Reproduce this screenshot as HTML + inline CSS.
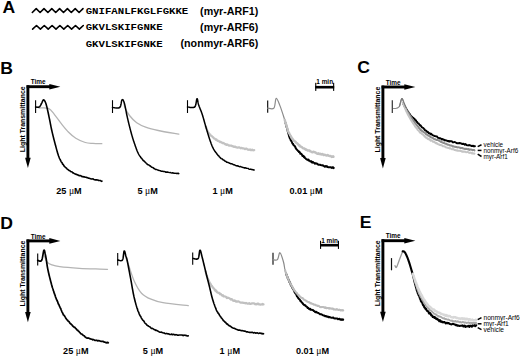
<!DOCTYPE html>
<html><head><meta charset="utf-8"><style>
html,body{margin:0;padding:0;background:#fff;}
body{width:520px;height:356px;overflow:hidden;font-family:"Liberation Sans",sans-serif;}
svg{display:block;}
</style></head><body>
<svg width="520" height="356" viewBox="0 0 520 356">
<rect width="520" height="356" fill="#fff"/>
<text transform="translate(2.4 12.9) scale(1.06 1)" font-family="Liberation Sans, sans-serif" font-weight="bold" font-size="16.6">A</text>
<path d="M32.30 12.50 L36.20 8.60 L40.10 12.50 L44.00 8.60 L47.90 12.50 L51.80 8.60 L55.70 12.50 L59.60 8.60 L63.50 12.50 L67.40 8.60 L71.30 12.50 L75.20 8.60 L79.10 12.50 L83.00 8.60" fill="none" stroke="#000" stroke-width="1.60" stroke-linejoin="round" stroke-linecap="round" stroke-linecap="butt" stroke-linejoin="miter"/>
<path d="M32.60 29.20 L36.50 25.50 L40.40 29.20 L44.30 25.50 L48.20 29.20 L52.10 25.50 L56.00 29.20 L59.90 25.50 L63.80 29.20 L67.70 25.50 L71.60 29.20 L75.50 25.50 L79.40 29.20 L83.30 25.50" fill="none" stroke="#000" stroke-width="1.60" stroke-linejoin="round" stroke-linecap="round" stroke-linecap="butt" stroke-linejoin="miter"/>
<text transform="translate(85.7 13.7) scale(1 0.88)" font-family="Liberation Mono, monospace" font-weight="bold" font-size="10.7">GNIFANLFKGLFGKKE</text>
<text transform="translate(85.7 30.4) scale(1 0.88)" font-family="Liberation Mono, monospace" font-weight="bold" font-size="10.7">GKVLSKIFGNKE</text>
<text transform="translate(85.7 47.0) scale(1 0.88)" font-family="Liberation Mono, monospace" font-weight="bold" font-size="10.7">GKVLSKIFGNKE</text>
<text x="258.3" y="14.6" font-family="Liberation Sans, sans-serif" font-weight="bold" font-size="10.7" text-anchor="end">(myr-ARF1)</text>
<text x="258.3" y="31.0" font-family="Liberation Sans, sans-serif" font-weight="bold" font-size="10.7" text-anchor="end">(myr-ARF6)</text>
<text x="258.3" y="47.2" font-family="Liberation Sans, sans-serif" font-weight="bold" font-size="10.7" text-anchor="end">(nonmyr-ARF6)</text>
<text transform="translate(0.20 74.30) scale(1.06 1)" font-family="Liberation Sans, sans-serif" font-weight="bold" font-size="16.6">B</text>
<text transform="translate(357.30 72.90) scale(1.06 1)" font-family="Liberation Sans, sans-serif" font-weight="bold" font-size="16.6">C</text>
<text transform="translate(0.20 228.80) scale(1.06 1)" font-family="Liberation Sans, sans-serif" font-weight="bold" font-size="16.6">D</text>
<text transform="translate(359.80 228.30) scale(1.06 1)" font-family="Liberation Sans, sans-serif" font-weight="bold" font-size="16.6">E</text>
<rect x="26.60" y="85.25" width="23.70" height="2.90" fill="#000"/>
<polygon points="49.30,83.90 60.40,86.70 49.30,89.50" fill="#000"/>
<rect x="26.45" y="85.25" width="2.90" height="73.45" fill="#000"/>
<polygon points="25.10,157.70 27.90,168.10 30.70,157.70" fill="#000"/>
<text x="30.80" y="84.30" font-family="Liberation Sans, sans-serif" font-size="6.4" font-weight="bold">Time</text>
<text transform="translate(25.20 152.20) rotate(-90)" font-family="Liberation Sans, sans-serif" font-size="7.3" font-weight="bold" textLength="65.8" lengthAdjust="spacingAndGlyphs">Light Transmittance</text>
<rect x="381.60" y="85.55" width="23.70" height="2.90" fill="#000"/>
<polygon points="404.30,84.20 415.40,87.00 404.30,89.80" fill="#000"/>
<rect x="381.45" y="85.55" width="2.90" height="73.45" fill="#000"/>
<polygon points="380.10,158.00 382.90,168.40 385.70,158.00" fill="#000"/>
<text x="385.80" y="84.60" font-family="Liberation Sans, sans-serif" font-size="6.4" font-weight="bold">Time</text>
<text transform="translate(380.20 152.50) rotate(-90)" font-family="Liberation Sans, sans-serif" font-size="7.3" font-weight="bold" textLength="65.8" lengthAdjust="spacingAndGlyphs">Light Transmittance</text>
<rect x="26.60" y="239.45" width="23.70" height="2.90" fill="#000"/>
<polygon points="49.30,238.10 60.40,240.90 49.30,243.70" fill="#000"/>
<rect x="26.45" y="239.45" width="2.90" height="73.45" fill="#000"/>
<polygon points="25.10,311.90 27.90,322.30 30.70,311.90" fill="#000"/>
<text x="30.80" y="238.50" font-family="Liberation Sans, sans-serif" font-size="6.4" font-weight="bold">Time</text>
<text transform="translate(25.20 306.40) rotate(-90)" font-family="Liberation Sans, sans-serif" font-size="7.3" font-weight="bold" textLength="65.8" lengthAdjust="spacingAndGlyphs">Light Transmittance</text>
<rect x="381.60" y="239.25" width="23.70" height="2.90" fill="#000"/>
<polygon points="404.30,237.90 415.40,240.70 404.30,243.50" fill="#000"/>
<rect x="381.45" y="239.25" width="2.90" height="73.45" fill="#000"/>
<polygon points="380.10,311.70 382.90,322.10 385.70,311.70" fill="#000"/>
<text x="385.80" y="238.30" font-family="Liberation Sans, sans-serif" font-size="6.4" font-weight="bold">Time</text>
<text transform="translate(380.20 306.20) rotate(-90)" font-family="Liberation Sans, sans-serif" font-size="7.3" font-weight="bold" textLength="65.8" lengthAdjust="spacingAndGlyphs">Light Transmittance</text>
<line x1="35.60" y1="100.20" x2="35.60" y2="113.00" stroke="#000" stroke-width="1.10"/>
<path d="M39.00 108.00 C40.57 108.07 45.85 107.35 48.40 108.40 C50.95 109.45 52.12 111.72 54.30 114.30 C56.48 116.88 59.12 120.92 61.50 123.90 C63.88 126.88 66.22 129.82 68.60 132.20 C70.98 134.58 73.02 136.48 75.80 138.20 C78.58 139.92 82.43 141.63 85.30 142.50 C88.17 143.37 90.25 143.20 93.00 143.40 C95.75 143.60 100.33 143.65 101.80 143.70" fill="none" stroke="#b4b4b4" stroke-width="1.30" stroke-linejoin="round" stroke-linecap="round"/>
<path d="M35.60 107.00 L36.11 107.06 L36.84 107.17 L37.68 107.25 L38.51 107.22 L39.20 107.00 L39.75 106.53 L40.23 105.86 L40.66 105.08 L41.08 104.27 L41.50 103.50 L41.85 102.82 L42.19 102.04 L42.52 101.26 L42.84 100.57 L43.17 100.05 L43.50 99.80 L44.01 99.95 L44.52 100.55 L45.02 101.45 L45.50 102.50 L45.72 103.05 L45.93 103.64 L46.13 104.27 L46.33 104.95 L46.53 105.70 L46.74 106.51 L46.96 107.41 L47.20 108.40 L47.34 108.97 L47.48 109.58 L47.62 110.21 L47.77 110.88 L47.92 111.57 L48.07 112.28 L48.23 113.01 L48.39 113.75 L48.54 114.50 L48.70 115.27 L48.86 116.04 L49.02 116.81 L49.18 117.58 L49.34 118.34 L49.50 119.10 L49.64 119.76 L49.77 120.43 L49.90 121.10 L50.03 121.77 L50.16 122.44 L50.29 123.11 L50.42 123.79 L50.55 124.48 L50.69 125.17 L50.82 125.87 L50.96 126.57 L51.10 127.29 L51.25 128.01 L51.40 128.74 L51.56 129.48 L51.73 130.24 L51.90 131.00 L52.05 131.63 L52.20 132.28 L52.35 132.94 L52.51 133.61 L52.67 134.29 L52.84 134.98 L53.01 135.67 L53.18 136.38 L53.36 137.08 L53.54 137.79 L53.71 138.50 L53.89 139.21 L54.07 139.91 L54.26 140.61 L54.44 141.31 L54.62 142.00 L54.80 142.68 L54.98 143.36 L55.15 144.02 L55.33 144.67 L55.50 145.30 L55.71 146.07 L55.92 146.84 L56.12 147.60 L56.32 148.36 L56.52 149.11 L56.72 149.85 L56.92 150.59 L57.12 151.32 L57.33 152.03 L57.53 152.74 L57.74 153.43 L57.95 154.11 L58.17 154.78 L58.39 155.43 L58.62 156.07 L58.86 156.69 L59.10 157.30 L59.42 158.07 L59.75 158.80 L60.08 159.33 L60.41 160.23 L60.75 160.78 L61.10 161.58 L61.46 162.22 L61.83 162.44 L62.21 163.00 L62.61 164.15 L63.02 164.32 L63.45 164.86 L63.90 165.95 L64.36 166.12 L64.84 166.90 L65.33 167.16 L65.83 167.77 L66.35 167.91 L66.88 168.72 L67.42 169.33 L67.98 169.54 L68.56 170.12 L69.14 170.50 L69.75 170.49 L70.37 171.38 L71.00 171.66 L71.57 171.80 L72.16 171.94 L72.76 172.86 L73.38 172.90 L74.02 173.38 L74.66 173.80 L75.32 173.98 L75.98 174.41 L76.65 174.32 L77.31 174.88 L77.98 174.90 L78.65 175.49 L79.31 175.70 L79.96 175.39 L80.60 175.65 L81.33 175.95 L82.04 176.70 L82.75 176.53 L83.45 176.85 L84.15 176.80 L84.85 177.12 L85.56 177.19 L86.28 177.33 L87.00 177.65 L87.75 177.82 L88.51 178.21 L89.29 178.23 L90.10 178.60 L90.76 178.71 L91.46 178.97 L92.21 178.93 L92.99 178.75 L93.79 179.43 L94.60 179.70 L95.42 179.85 L96.24 179.80 L97.04 180.09 L97.83 179.92 L98.58 180.53 L99.30 180.52 L99.97 180.47 L100.58 180.46 L101.13 181.14 L101.61 181.35 L102.00 181.10" fill="none" stroke="#000" stroke-width="1.60" stroke-linejoin="round" stroke-linecap="round"/>
<line x1="112.50" y1="100.20" x2="112.50" y2="113.00" stroke="#000" stroke-width="1.10"/>
<path d="M124.30 103.00 C124.38 103.70 123.93 105.12 124.80 107.20 C125.67 109.28 127.52 112.92 129.50 115.50 C131.48 118.08 133.90 120.72 136.70 122.70 C139.50 124.68 142.72 126.10 146.30 127.40 C149.88 128.70 152.78 129.37 158.20 130.50 C163.62 131.63 175.37 133.58 178.80 134.20" fill="none" stroke="#b4b4b4" stroke-width="1.30" stroke-linejoin="round" stroke-linecap="round"/>
<path d="M112.50 107.50 L112.95 107.53 L113.56 107.62 L114.29 107.74 L115.10 107.87 L115.96 107.98 L116.83 108.05 L117.67 108.07 L118.46 107.99 L119.15 107.81 L119.70 107.50 L120.09 107.05 L120.42 106.42 L120.68 105.66 L120.90 104.81 L121.08 103.91 L121.23 103.00 L121.37 102.12 L121.51 101.32 L121.65 100.64 L121.81 100.12 L122.00 99.80 L122.45 99.57 L122.89 99.79 L123.34 100.44 L123.80 101.51 L124.30 103.00 L124.43 103.45 L124.56 103.94 L124.70 104.48 L124.83 105.06 L124.97 105.67 L125.11 106.32 L125.25 106.99 L125.39 107.70 L125.53 108.42 L125.67 109.16 L125.82 109.91 L125.97 110.67 L126.12 111.44 L126.27 112.22 L126.42 112.99 L126.57 113.75 L126.73 114.51 L126.88 115.26 L127.04 115.99 L127.20 116.70 L127.35 117.37 L127.51 118.05 L127.67 118.73 L127.83 119.42 L127.99 120.11 L128.15 120.81 L128.32 121.51 L128.49 122.21 L128.65 122.91 L128.82 123.61 L128.99 124.31 L129.16 125.00 L129.33 125.69 L129.50 126.38 L129.68 127.06 L129.85 127.74 L130.02 128.41 L130.19 129.07 L130.36 129.73 L130.53 130.37 L130.70 131.00 L130.91 131.77 L131.11 132.52 L131.31 133.26 L131.51 133.98 L131.71 134.70 L131.91 135.41 L132.12 136.11 L132.32 136.80 L132.52 137.49 L132.73 138.18 L132.94 138.86 L133.15 139.55 L133.37 140.23 L133.59 140.92 L133.82 141.61 L134.06 142.30 L134.30 143.00 L134.53 143.67 L134.77 144.35 L135.00 145.03 L135.24 145.72 L135.48 146.41 L135.72 147.11 L135.97 147.80 L136.22 148.49 L136.48 149.18 L136.74 149.86 L137.00 150.54 L137.28 151.20 L137.56 151.86 L137.85 152.50 L138.15 153.13 L138.45 153.74 L138.77 154.33 L139.10 154.90 L139.51 155.56 L139.92 156.20 L140.35 156.58 L140.79 157.61 L141.24 157.96 L141.70 158.38 L142.17 159.02 L142.65 159.85 L143.14 160.44 L143.64 160.46 L144.15 161.31 L144.67 161.47 L145.21 162.37 L145.75 162.62 L146.30 163.43 L146.83 163.93 L147.36 164.08 L147.90 164.81 L148.46 164.82 L149.02 165.09 L149.59 165.81 L150.17 165.86 L150.76 166.34 L151.35 166.84 L151.96 167.33 L152.58 167.41 L153.20 167.68 L153.84 168.51 L154.48 168.49 L155.14 169.18 L155.80 169.44 L156.44 169.39 L157.09 169.68 L157.77 169.96 L158.45 170.25 L159.15 170.44 L159.85 170.62 L160.57 170.84 L161.29 171.22 L162.01 171.13 L162.74 171.26 L163.46 171.59 L164.19 171.45 L164.90 171.64 L165.62 172.18 L166.32 172.05 L167.02 172.20 L167.70 172.01 L168.49 172.39 L169.31 172.62 L170.15 172.41 L171.01 172.88 L171.87 172.99 L172.73 172.75 L173.58 173.18 L174.40 173.16 L175.20 173.37 L175.95 173.24 L176.66 173.52 L177.30 173.59 L177.88 173.22 L178.38 173.29 L178.80 173.60" fill="none" stroke="#000" stroke-width="1.50" stroke-linejoin="round" stroke-linecap="round"/>
<line x1="187.50" y1="100.20" x2="187.50" y2="113.00" stroke="#000" stroke-width="1.10"/>
<path d="M205.70 126.30 L205.89 126.84 L206.16 127.60 L206.48 128.49 L206.84 129.39 L207.20 130.20 L207.54 130.89 L207.87 131.53 L208.24 132.17 L208.70 132.84 L209.30 133.78 L209.70 134.53 L210.14 134.32 L210.61 135.05 L211.12 135.72 L211.65 135.99 L212.22 136.59 L212.82 137.08 L213.45 137.66 L214.10 138.40 L214.66 138.50 L215.23 138.98 L215.83 139.78 L216.44 139.43 L217.08 140.36 L217.74 140.92 L218.41 140.87 L219.11 141.16 L219.82 142.10 L220.55 141.89 L221.30 142.19 L221.90 142.70 L222.52 143.22 L223.14 142.88 L223.78 143.35 L224.42 143.61 L225.08 144.35 L225.76 144.19 L226.44 144.84 L227.14 144.38 L227.84 144.77 L228.56 145.31 L229.30 145.76 L230.04 145.54 L230.80 145.53 L231.44 145.59 L232.09 146.17 L232.76 146.00 L233.44 146.79 L234.14 146.98 L234.84 146.49 L235.55 146.74 L236.27 147.43 L236.99 147.42 L237.71 147.73 L238.43 147.42 L239.16 147.35 L239.88 147.66 L240.59 148.30 L241.30 147.91 L242.01 148.12 L242.70 148.32 L243.45 148.45 L244.24 148.58 L245.05 149.22 L245.87 148.58 L246.71 148.56 L247.55 149.62 L248.38 149.68 L249.19 149.90 L249.99 149.46 L250.75 150.08 L251.47 150.15 L252.14 149.54 L252.76 150.14 L253.32 150.31 L253.80 150.21 L254.20 150.10" fill="none" stroke="#c2c2c2" stroke-width="2.20" stroke-linejoin="round" stroke-linecap="round"/>
<path d="M187.50 107.00 L187.95 107.04 L188.56 107.13 L189.29 107.26 L190.10 107.40 L190.96 107.52 L191.83 107.60 L192.67 107.61 L193.46 107.53 L194.15 107.34 L194.70 107.00 L195.07 106.55 L195.37 105.93 L195.64 105.17 L195.86 104.31 L196.04 103.40 L196.20 102.47 L196.34 101.56 L196.47 100.71 L196.59 99.96 L196.71 99.35 L196.85 98.91 L197.00 98.70 L197.20 98.73 L197.36 99.02 L197.51 99.54 L197.65 100.24 L197.79 101.07 L197.94 101.98 L198.12 102.94 L198.34 103.89 L198.60 104.80 L198.80 105.37 L199.01 105.96 L199.24 106.57 L199.49 107.19 L199.74 107.84 L200.01 108.50 L200.28 109.18 L200.56 109.88 L200.84 110.58 L201.12 111.30 L201.40 112.04 L201.67 112.78 L201.94 113.54 L202.20 114.30 L202.41 114.94 L202.62 115.60 L202.82 116.27 L203.03 116.95 L203.23 117.65 L203.44 118.35 L203.64 119.07 L203.85 119.79 L204.05 120.51 L204.26 121.24 L204.46 121.97 L204.67 122.70 L204.87 123.43 L205.08 124.16 L205.28 124.88 L205.49 125.59 L205.70 126.30 L205.91 127.01 L206.12 127.72 L206.33 128.44 L206.54 129.16 L206.75 129.88 L206.96 130.60 L207.18 131.33 L207.39 132.05 L207.60 132.76 L207.81 133.48 L208.03 134.18 L208.24 134.88 L208.45 135.57 L208.66 136.24 L208.88 136.91 L209.09 137.56 L209.30 138.20 L209.55 138.96 L209.80 139.70 L210.05 140.44 L210.29 141.16 L210.54 141.86 L210.78 142.56 L211.03 143.24 L211.27 143.92 L211.53 144.58 L211.78 145.22 L212.05 145.86 L212.32 146.48 L212.61 147.10 L212.90 147.70 L213.25 148.38 L213.60 149.05 L213.96 149.69 L214.33 150.31 L214.70 150.92 L215.08 151.53 L215.48 151.97 L215.89 152.58 L216.31 153.07 L216.75 153.54 L217.22 154.40 L217.70 154.77 L218.16 155.59 L218.64 155.64 L219.13 156.65 L219.63 157.02 L220.15 157.64 L220.68 158.10 L221.22 158.57 L221.78 158.84 L222.36 158.95 L222.94 159.82 L223.55 159.90 L224.17 160.39 L224.80 161.00 L225.41 161.26 L226.03 161.53 L226.67 162.17 L227.33 162.28 L228.00 162.42 L228.68 162.65 L229.38 163.30 L230.08 163.34 L230.79 163.79 L231.50 163.79 L232.23 163.96 L232.95 164.41 L233.67 164.84 L234.40 164.70 L235.08 165.31 L235.78 165.62 L236.50 165.78 L237.22 166.01 L237.94 165.74 L238.68 166.33 L239.41 166.68 L240.15 166.40 L240.88 166.74 L241.61 166.94 L242.33 167.28 L243.04 167.41 L243.74 167.63 L244.43 167.99 L245.10 167.70 L245.88 167.93 L246.68 168.18 L247.50 168.37 L248.32 168.53 L249.13 169.26 L249.93 169.37 L250.70 169.08 L251.44 169.49 L252.12 169.53 L252.75 169.67 L253.32 169.81 L253.80 170.10 L254.20 170.10" fill="none" stroke="#000" stroke-width="1.50" stroke-linejoin="round" stroke-linecap="round"/>
<line x1="267.70" y1="100.50" x2="267.70" y2="112.80" stroke="#000" stroke-width="1.10"/>
<path d="M285.50 123.10 L285.61 123.23 L285.75 123.53 L285.91 124.29 L286.10 124.70 L286.30 125.94 L286.51 126.89 L286.73 127.28 L286.95 127.71 L287.17 128.62 L287.39 129.62 L287.60 130.63 L287.80 131.55 L287.99 131.78 L288.17 133.01 L288.35 133.53 L288.54 134.03 L288.74 134.70 L288.95 135.58 L289.17 136.56 L289.42 136.96 L289.69 138.01 L290.00 138.45 L290.28 138.80 L290.58 139.76 L290.90 140.55 L291.23 140.40 L291.57 141.43 L291.93 142.03 L292.30 143.17 L292.68 143.84 L293.07 143.76 L293.47 144.99 L293.87 145.46 L294.28 145.42 L294.70 146.26 L295.09 146.40 L295.49 147.79 L295.90 148.18 L296.32 149.02 L296.74 149.47 L297.17 149.89 L297.61 150.53 L298.06 150.89 L298.51 150.89 L298.98 152.02 L299.45 151.86 L299.92 152.55 L300.41 153.83 L300.90 153.45 L301.40 154.00 L301.89 154.50 L302.39 155.91 L302.90 155.54 L303.41 155.82 L303.93 157.26 L304.46 156.84 L305.00 158.15 L305.56 158.37 L306.13 158.99 L306.72 159.55 L307.32 159.51 L307.95 160.17 L308.60 159.64 L309.18 160.86 L309.78 160.88 L310.38 161.44 L311.00 161.03 L311.63 162.10 L312.26 162.63 L312.92 161.88 L313.58 162.48 L314.26 163.05 L314.95 163.65 L315.66 163.22 L316.37 163.41 L317.11 163.75 L317.86 164.45 L318.62 164.86 L319.40 164.67 L320.02 164.82 L320.69 165.04 L321.39 165.17 L322.13 165.43 L322.89 165.21 L323.67 165.89 L324.47 166.63 L325.27 166.13 L326.08 166.69 L326.88 166.15 L327.67 166.94 L328.45 167.17 L329.20 167.22 L329.93 167.17 L330.63 167.26 L331.29 167.58 L331.90 168.00 L332.47 167.21 L332.98 167.25 L333.42 168.12 L333.80 167.90" fill="none" stroke="#000" stroke-width="2.00" stroke-linejoin="round" stroke-linecap="round"/>
<path d="M267.70 108.20 C268.73 108.20 272.48 109.83 273.90 108.20 C275.32 106.57 275.18 98.78 276.20 98.40 C277.22 98.02 278.58 102.33 280.00 105.90 C281.42 109.47 283.53 116.20 284.70 119.80 C285.87 123.40 286.62 126.22 287.00 127.50" fill="none" stroke="#8a8a8a" stroke-width="1.20" stroke-linejoin="round" stroke-linecap="round"/>
<path d="M284.70 119.80 L284.82 120.22 L284.98 120.75 L285.16 121.39 L285.37 122.10 L285.60 122.88 L285.83 123.68 L286.07 124.50 L286.32 125.31 L286.56 126.10 L286.79 126.83 L287.00 127.50 L287.23 128.23 L287.43 128.91 L287.62 129.56 L287.80 130.18 L288.00 131.25 L288.23 131.44 L288.49 132.01 L288.81 133.00 L289.20 133.15 L289.50 133.79 L289.83 134.29 L290.17 135.31 L290.52 135.62 L290.90 136.15 L291.30 137.28 L291.72 138.20 L292.16 138.12 L292.62 139.20 L293.10 139.50 L293.61 140.60 L294.14 140.91 L294.70 141.14 L295.17 141.56 L295.66 141.81 L296.17 142.78 L296.69 143.14 L297.22 143.37 L297.78 144.04 L298.34 144.46 L298.92 145.41 L299.52 145.16 L300.13 146.53 L300.74 146.40 L301.37 146.95 L302.02 147.21 L302.67 148.01 L303.33 148.38 L304.00 148.46 L304.60 148.70 L305.21 149.26 L305.82 149.71 L306.44 149.49 L307.06 150.13 L307.70 150.65 L308.34 150.36 L308.99 150.36 L309.66 150.61 L310.33 151.38 L311.02 151.57 L311.73 152.12 L312.44 152.24 L313.18 151.79 L313.93 151.97 L314.70 152.27 L315.49 152.42 L316.30 153.23 L316.91 153.56 L317.56 153.78 L318.25 153.25 L318.96 154.10 L319.70 153.67 L320.46 153.97 L321.25 154.48 L322.04 153.95 L322.84 154.14 L323.65 155.13 L324.46 154.70 L325.27 154.95 L326.07 155.36 L326.85 155.63 L327.62 155.05 L328.37 155.56 L329.10 155.82 L329.79 156.02 L330.46 155.85 L331.08 156.39 L331.67 156.92 L332.20 156.41 L332.69 156.68 L333.13 156.30 L333.50 156.80" fill="none" stroke="#c0c0c0" stroke-width="2.40" stroke-linejoin="round" stroke-linecap="round"/>
<line x1="392.30" y1="100.20" x2="392.30" y2="113.00" stroke="#333" stroke-width="1.20"/>
<path d="M393.50 108.50 C394.00 108.47 395.50 108.68 396.50 108.30 C397.50 107.92 398.63 107.80 399.50 106.20 C400.37 104.60 401.03 99.48 401.70 98.70 C402.37 97.92 403.20 101.03 403.50 101.50" fill="none" stroke="#8a8a8a" stroke-width="1.20" stroke-linejoin="round" stroke-linecap="round"/>
<path d="M402.90 103.00 L403.13 103.40 L403.42 103.92 L403.76 104.53 L404.15 105.22 L404.57 105.96 L405.00 106.73 L405.45 107.50 L405.89 108.25 L406.31 108.96 L406.70 109.60 L407.11 110.26 L407.52 110.90 L407.92 111.53 L408.32 112.14 L408.73 112.74 L409.13 113.33 L409.55 113.90 L409.97 114.45 L410.40 115.00 L410.88 115.57 L411.36 116.09 L411.83 116.57 L412.31 117.05 L412.82 117.54 L413.36 117.81 L413.95 118.82 L414.60 118.87 L415.03 120.18 L415.49 120.69 L415.97 120.31 L416.47 121.77 L416.99 121.70 L417.52 122.70 L418.06 123.26 L418.60 123.33 L419.15 124.32 L419.70 124.86 L420.24 125.58 L420.77 125.53 L421.30 126.58 L421.81 127.31 L422.32 127.49 L422.82 127.84 L423.32 127.87 L423.81 128.77 L424.31 129.10 L424.82 129.98 L425.33 130.40 L425.85 130.74 L426.39 130.76 L426.94 131.71 L427.51 132.13 L428.10 132.05 L428.67 133.21 L429.27 133.32 L429.88 133.10 L430.52 134.34 L431.16 133.82 L431.81 134.36 L432.48 135.12 L433.14 135.31 L433.80 135.58 L434.46 135.99 L435.11 136.09 L435.76 136.22 L436.39 136.36 L437.00 136.53 L437.68 137.55 L438.32 137.90 L438.93 137.95 L439.52 138.44 L440.11 138.29 L440.70 138.44 L441.31 138.82 L441.94 139.61 L442.62 138.94 L443.35 139.70 L444.14 139.67 L445.00 140.50 L445.55 140.19 L446.13 140.32 L446.72 140.55 L447.33 140.86 L447.96 141.26 L448.61 140.95 L449.27 141.65 L449.94 140.99 L450.63 141.31 L451.33 141.27 L452.04 141.44 L452.76 142.32 L453.49 142.41 L454.22 141.96 L454.96 142.11 L455.70 142.51 L456.45 143.02 L457.20 143.25 L457.95 143.32 L458.70 143.30 L459.37 142.94 L460.08 143.36 L460.82 143.28 L461.58 143.79 L462.37 143.98 L463.18 143.73 L463.99 143.93 L464.82 144.67 L465.65 144.00 L466.48 145.00 L467.30 145.24 L468.11 145.45 L468.91 144.98 L469.68 145.30 L470.43 145.47 L471.16 145.65 L471.84 146.16 L472.49 145.95 L473.10 145.64 L473.66 146.35 L474.16 146.03 L474.61 146.24 L475.00 146.20" fill="none" stroke="#000" stroke-width="1.90" stroke-linejoin="round" stroke-linecap="round"/>
<path d="M402.90 103.00 L403.10 103.38 L403.35 103.86 L403.64 104.43 L403.98 105.08 L404.34 105.77 L404.72 106.50 L405.11 107.24 L405.50 107.98 L405.88 108.70 L406.25 109.38 L406.60 110.00 L407.00 110.71 L407.41 111.40 L407.81 112.07 L408.21 112.73 L408.61 113.38 L409.00 114.02 L409.40 114.65 L409.80 115.28 L410.20 115.90 L410.59 116.50 L410.95 117.07 L411.30 117.62 L411.66 118.16 L412.02 118.71 L412.41 119.27 L412.83 119.87 L413.29 120.50 L413.80 121.20 L414.16 121.87 L414.54 121.80 L414.94 122.96 L415.36 123.44 L415.79 123.88 L416.23 124.50 L416.69 125.05 L417.15 125.43 L417.62 126.30 L418.09 126.49 L418.57 127.43 L419.05 128.10 L419.53 128.46 L420.00 129.05 L420.55 129.91 L421.10 130.38 L421.65 130.28 L422.20 131.29 L422.76 131.62 L423.32 131.62 L423.90 132.31 L424.49 132.65 L425.09 132.96 L425.71 133.76 L426.34 134.51 L427.00 134.46 L427.58 135.27 L428.17 135.51 L428.78 135.43 L429.40 136.38 L430.03 136.54 L430.66 137.17 L431.31 137.36 L431.97 137.74 L432.63 137.77 L433.30 138.49 L433.97 138.94 L434.64 139.22 L435.32 139.22 L436.00 139.81 L436.64 139.89 L437.28 139.89 L437.94 140.14 L438.59 140.46 L439.26 140.85 L439.93 141.10 L440.60 141.66 L441.28 142.10 L441.95 142.25 L442.63 142.43 L443.31 142.88 L443.98 142.87 L444.66 143.26 L445.33 143.75 L446.00 143.72 L446.65 143.79 L447.27 144.61 L447.86 144.71 L448.45 144.66 L449.02 144.90 L449.59 145.25 L450.17 145.53 L450.77 145.45 L451.39 145.49 L452.04 145.88 L452.72 146.56 L453.46 146.26 L454.24 146.73 L455.09 146.74 L456.00 146.97 L456.57 147.07 L457.20 147.38 L457.86 147.33 L458.56 147.36 L459.30 147.56 L460.07 147.75 L460.86 148.15 L461.67 147.95 L462.50 148.07 L463.34 148.55 L464.18 148.66 L465.03 149.04 L465.88 148.65 L466.71 149.07 L467.54 149.20 L468.35 149.03 L469.13 149.91 L469.89 149.43 L470.62 149.45 L471.32 149.86 L471.98 149.72 L472.59 150.18 L473.15 150.05 L473.66 149.96 L474.11 149.98 L474.50 150.40" fill="none" stroke="#8c8c8c" stroke-width="2.00" stroke-linejoin="round" stroke-linecap="round"/>
<path d="M402.90 103.00 L403.06 103.39 L403.26 103.89 L403.49 104.47 L403.75 105.13 L404.04 105.84 L404.34 106.59 L404.65 107.36 L404.97 108.14 L405.29 108.91 L405.61 109.66 L405.91 110.36 L406.20 111.00 L406.53 111.72 L406.87 112.42 L407.20 113.10 L407.54 113.77 L407.88 114.42 L408.21 115.07 L408.55 115.71 L408.90 116.34 L409.25 116.97 L409.60 117.60 L409.95 118.22 L410.29 118.81 L410.62 119.39 L410.96 119.97 L411.31 120.54 L411.66 121.11 L412.03 121.70 L412.43 122.31 L412.85 122.94 L413.30 123.60 L413.67 124.14 L414.06 124.89 L414.47 125.11 L414.90 126.12 L415.33 126.48 L415.78 127.47 L416.23 127.59 L416.69 128.16 L417.16 128.78 L417.62 129.82 L418.09 130.24 L418.55 130.56 L419.00 130.87 L419.53 131.92 L420.05 132.70 L420.56 132.92 L421.08 132.95 L421.59 133.46 L422.12 133.98 L422.66 134.50 L423.21 134.85 L423.78 135.32 L424.38 136.26 L425.00 136.92 L425.54 136.75 L426.07 137.75 L426.60 137.73 L427.14 138.36 L427.69 138.81 L428.25 139.20 L428.84 138.83 L429.45 139.42 L430.08 140.03 L430.75 140.68 L431.46 140.37 L432.21 140.93 L433.00 141.78 L433.54 141.46 L434.11 141.96 L434.70 142.21 L435.31 142.78 L435.94 143.28 L436.59 142.98 L437.25 143.74 L437.92 144.04 L438.60 144.43 L439.29 144.52 L439.99 145.12 L440.70 144.98 L441.40 145.32 L442.11 145.47 L442.82 146.20 L443.53 146.24 L444.23 146.35 L444.93 146.54 L445.62 147.23 L446.30 147.38 L446.98 147.70 L447.65 147.67 L448.33 147.97 L449.00 147.92 L449.68 148.57 L450.36 148.22 L451.03 148.77 L451.71 149.19 L452.39 149.31 L453.08 149.03 L453.76 149.32 L454.44 149.97 L455.13 149.98 L455.82 150.34 L456.51 150.50 L457.20 150.32 L457.90 150.84 L458.60 150.87 L459.30 150.71 L460.00 150.90 L460.69 150.81 L461.41 151.22 L462.16 151.82 L462.92 151.29 L463.71 151.81 L464.51 151.59 L465.31 151.71 L466.12 152.31 L466.92 152.12 L467.71 152.10 L468.49 152.32 L469.26 152.84 L470.00 152.92 L470.71 152.58 L471.39 152.86 L472.03 153.56 L472.63 153.06 L473.18 153.42 L473.68 153.39 L474.12 153.76 L474.50 153.60" fill="none" stroke="#c4c4c4" stroke-width="2.00" stroke-linejoin="round" stroke-linecap="round"/>
<path d="M399.50 106.20 C399.87 104.95 401.03 99.48 401.70 98.70 C402.37 97.92 402.78 100.03 403.50 101.50 C404.22 102.97 405.58 106.50 406.00 107.50" fill="none" stroke="#7a7a7a" stroke-width="1.20" stroke-linejoin="round" stroke-linecap="round"/>
<line x1="477.7" y1="146.6" x2="481.5" y2="144.8" stroke="#000" stroke-width="1.5"/>
<line x1="477.7" y1="150.4" x2="481.5" y2="150.4" stroke="#000" stroke-width="1.5"/>
<line x1="477.7" y1="154.2" x2="481.5" y2="156.5" stroke="#000" stroke-width="1.5"/>
<text x="483.5" y="146.8" font-family="Liberation Sans, sans-serif" font-size="6.3">vehicle</text>
<text x="483.5" y="152.6" font-family="Liberation Sans, sans-serif" font-size="6.3">nonmyr-Arf6</text>
<text x="483.5" y="158.5" font-family="Liberation Sans, sans-serif" font-size="6.3">myr-Arf1</text>
<line x1="37.70" y1="253.50" x2="37.70" y2="265.40" stroke="#000" stroke-width="1.10"/>
<path d="M44.50 256.00 C44.90 256.97 45.68 260.33 46.90 261.80 C48.12 263.27 49.67 263.98 51.80 264.80 C53.93 265.62 55.10 266.12 59.70 266.70 C64.30 267.28 72.68 267.90 79.40 268.30 C86.12 268.70 95.32 268.93 100.00 269.10 C104.68 269.27 106.25 269.27 107.50 269.30" fill="none" stroke="#b4b4b4" stroke-width="1.30" stroke-linejoin="round" stroke-linecap="round"/>
<path d="M37.70 260.40 L38.26 260.56 L39.06 260.89 L39.97 261.13 L40.86 261.05 L41.60 260.40 L41.82 259.95 L42.02 259.36 L42.22 258.64 L42.40 257.82 L42.58 256.94 L42.75 256.01 L42.91 255.06 L43.07 254.13 L43.22 253.23 L43.36 252.39 L43.50 251.64 L43.64 251.01 L43.77 250.52 L43.90 250.20 L44.23 250.05 L44.51 250.66 L44.75 251.73 L44.98 252.95 L45.20 254.00 L45.35 254.59 L45.49 255.15 L45.61 255.71 L45.74 256.33 L45.87 257.04 L46.02 257.88 L46.20 258.90 L46.29 259.44 L46.37 260.01 L46.46 260.60 L46.55 261.23 L46.63 261.88 L46.72 262.56 L46.82 263.26 L46.92 263.99 L47.03 264.74 L47.14 265.52 L47.27 266.31 L47.41 267.13 L47.56 267.97 L47.72 268.83 L47.90 269.70 L48.03 270.29 L48.16 270.90 L48.30 271.54 L48.45 272.19 L48.60 272.86 L48.76 273.54 L48.92 274.24 L49.09 274.95 L49.27 275.67 L49.44 276.39 L49.62 277.12 L49.80 277.85 L49.99 278.58 L50.17 279.31 L50.36 280.03 L50.54 280.75 L50.73 281.46 L50.91 282.16 L51.09 282.84 L51.28 283.51 L51.45 284.16 L51.63 284.79 L51.80 285.40 L52.03 286.28 L52.25 287.20 L52.48 287.75 L52.70 288.21 L52.92 288.92 L53.14 289.54 L53.36 290.83 L53.58 290.94 L53.81 291.53 L54.03 292.95 L54.26 293.00 L54.49 294.21 L54.72 294.22 L54.96 295.18 L55.20 295.64 L55.45 296.79 L55.70 297.29 L55.96 297.99 L56.23 298.78 L56.51 299.56 L56.80 299.84 L57.09 300.75 L57.38 301.32 L57.68 301.75 L57.98 303.02 L58.27 303.51 L58.57 304.36 L58.87 304.54 L59.16 305.46 L59.44 306.03 L59.72 306.86 L59.99 306.94 L60.25 307.73 L60.50 308.39 L60.86 308.86 L61.19 309.98 L61.49 310.82 L61.78 311.23 L62.05 312.03 L62.33 312.60 L62.62 312.87 L62.92 313.56 L63.25 314.67 L63.60 314.74 L64.00 315.44 L64.40 315.76 L64.82 316.46 L65.27 317.02 L65.74 318.24 L66.22 318.68 L66.72 319.39 L67.22 320.08 L67.73 320.36 L68.23 321.20 L68.73 321.44 L69.22 321.90 L69.70 322.86 L70.20 323.38 L70.69 323.93 L71.16 324.06 L71.62 324.77 L72.09 324.94 L72.56 325.88 L73.05 326.30 L73.57 326.29 L74.11 327.31 L74.68 327.26 L75.30 327.78 L75.75 328.71 L76.22 328.83 L76.72 329.50 L77.22 330.11 L77.75 330.15 L78.28 331.25 L78.82 331.41 L79.37 332.08 L79.93 332.54 L80.49 333.39 L81.05 333.90 L81.61 334.03 L82.17 334.35 L82.72 334.96 L83.27 335.46 L83.80 335.56 L84.43 336.03 L85.02 336.89 L85.59 337.16 L86.14 337.68 L86.69 337.95 L87.24 338.11 L87.81 337.94 L88.41 337.99 L89.05 338.32 L89.74 338.66 L90.48 338.93 L91.30 339.18 L92.20 339.29 L92.76 339.84 L93.38 339.54 L94.04 339.84 L94.74 340.35 L95.49 340.45 L96.26 340.22 L97.05 340.35 L97.87 340.97 L98.69 340.50 L99.53 340.77 L100.36 341.26 L101.19 341.43 L102.01 341.30 L102.81 341.36 L103.59 341.64 L104.34 342.23 L105.05 342.13 L105.73 342.67 L106.36 342.64 L106.94 342.91 L107.46 342.26 L107.91 342.47 L108.30 342.80" fill="none" stroke="#000" stroke-width="1.70" stroke-linejoin="round" stroke-linecap="round"/>
<line x1="117.70" y1="253.10" x2="117.70" y2="265.50" stroke="#000" stroke-width="1.10"/>
<path d="M126.00 258.00 C126.40 259.08 127.02 260.62 128.40 264.50 C129.78 268.38 132.12 276.52 134.30 281.30 C136.48 286.08 138.72 290.22 141.50 293.20 C144.28 296.18 147.42 297.62 151.00 299.20 C154.58 300.78 156.78 301.63 163.00 302.70 C169.22 303.77 184.08 305.12 188.30 305.60" fill="none" stroke="#b4b4b4" stroke-width="1.30" stroke-linejoin="round" stroke-linecap="round"/>
<path d="M117.70 260.00 L118.24 260.10 L119.03 260.33 L119.94 260.56 L120.87 260.67 L121.73 260.52 L122.40 260.00 L122.63 259.56 L122.84 258.97 L123.01 258.24 L123.17 257.42 L123.30 256.53 L123.42 255.62 L123.54 254.70 L123.64 253.82 L123.74 252.99 L123.84 252.27 L123.95 251.68 L124.07 251.24 L124.20 251.00 L124.43 251.00 L124.66 251.39 L124.90 252.07 L125.14 252.94 L125.37 253.91 L125.59 254.89 L125.80 255.79 L126.00 256.50 L126.24 257.17 L126.41 257.52 L126.58 257.94 L126.82 258.80 L127.20 260.50 L127.29 260.95 L127.39 261.44 L127.50 261.97 L127.61 262.53 L127.73 263.12 L127.85 263.75 L127.97 264.40 L128.10 265.08 L128.24 265.78 L128.37 266.50 L128.51 267.23 L128.66 267.99 L128.80 268.76 L128.95 269.54 L129.09 270.32 L129.24 271.12 L129.39 271.91 L129.54 272.71 L129.69 273.51 L129.84 274.31 L129.99 275.10 L130.13 275.89 L130.28 276.66 L130.42 277.42 L130.56 278.17 L130.70 278.90 L130.83 279.60 L130.96 280.30 L131.09 281.01 L131.22 281.73 L131.34 282.44 L131.47 283.17 L131.60 283.89 L131.72 284.62 L131.85 285.35 L131.97 286.08 L132.10 286.81 L132.23 287.54 L132.35 288.27 L132.48 288.99 L132.61 289.72 L132.74 290.44 L132.87 291.16 L133.01 291.87 L133.14 292.58 L133.28 293.29 L133.42 293.98 L133.56 294.67 L133.70 295.36 L133.85 296.03 L133.99 296.70 L134.15 297.35 L134.30 298.00 L134.48 298.75 L134.67 299.49 L134.85 300.23 L135.03 300.97 L135.22 301.70 L135.41 302.42 L135.60 303.14 L135.79 303.85 L135.98 304.55 L136.18 304.90 L136.37 305.89 L136.58 306.50 L136.78 306.97 L136.99 307.98 L137.21 308.32 L137.42 309.12 L137.65 309.71 L137.87 310.73 L138.11 311.08 L138.35 311.57 L138.59 312.02 L138.84 312.88 L139.10 313.59 L139.44 314.34 L139.78 315.21 L140.13 315.83 L140.49 316.11 L140.86 316.70 L141.24 317.78 L141.62 318.43 L142.01 318.85 L142.41 319.68 L142.81 320.07 L143.22 320.45 L143.64 320.93 L144.07 321.36 L144.50 322.33 L144.94 323.02 L145.39 323.53 L145.84 323.71 L146.30 324.32 L146.83 325.01 L147.36 325.41 L147.90 325.72 L148.46 326.03 L149.02 326.52 L149.59 326.67 L150.17 327.06 L150.76 327.77 L151.35 328.34 L151.96 328.37 L152.58 328.60 L153.20 328.88 L153.84 329.26 L154.48 329.81 L155.14 329.87 L155.80 330.52 L156.42 330.24 L157.04 330.61 L157.64 331.01 L158.25 331.18 L158.86 331.73 L159.47 331.94 L160.10 332.24 L160.73 332.22 L161.39 332.02 L162.06 332.60 L162.76 332.78 L163.49 332.92 L164.25 332.96 L165.05 333.44 L165.89 333.75 L166.77 333.36 L167.70 333.92 L168.28 333.81 L168.91 334.00 L169.57 334.36 L170.26 334.50 L170.99 334.36 L171.75 334.14 L172.52 334.73 L173.32 334.30 L174.14 334.52 L174.96 334.92 L175.80 334.64 L176.64 334.68 L177.48 335.23 L178.32 335.30 L179.16 334.93 L179.99 335.05 L180.80 335.04 L181.60 335.00 L182.38 335.15 L183.14 335.72 L183.87 335.14 L184.57 335.30 L185.23 335.33 L185.86 335.30 L186.44 335.66 L186.98 335.85 L187.48 335.96 L187.92 335.86 L188.30 335.80" fill="none" stroke="#000" stroke-width="1.60" stroke-linejoin="round" stroke-linecap="round"/>
<line x1="192.70" y1="252.40" x2="192.70" y2="264.70" stroke="#000" stroke-width="1.10"/>
<path d="M205.70 271.70 L205.81 272.15 L205.93 272.72 L206.08 273.41 L206.27 274.19 L206.51 275.06 L206.82 276.00 L207.20 277.00 L207.42 277.53 L207.66 278.11 L207.92 278.72 L208.19 279.35 L208.48 280.02 L208.78 280.69 L209.09 281.38 L209.43 282.07 L209.77 282.77 L210.13 283.77 L210.50 283.63 L210.89 284.56 L211.29 285.86 L211.70 285.57 L212.12 286.34 L212.55 287.12 L212.98 287.45 L213.42 288.27 L213.88 288.30 L214.35 289.01 L214.84 290.25 L215.34 289.94 L215.87 291.20 L216.42 290.96 L217.00 292.26 L217.60 292.42 L218.23 292.87 L218.90 292.84 L219.42 293.10 L219.95 294.15 L220.52 293.92 L221.10 294.28 L221.70 295.25 L222.31 295.64 L222.94 295.15 L223.58 296.40 L224.23 296.30 L224.89 296.48 L225.55 296.52 L226.21 297.11 L226.88 298.02 L227.55 297.61 L228.21 297.75 L228.87 298.05 L229.52 298.31 L230.17 298.80 L230.80 299.61 L231.49 299.05 L232.15 299.43 L232.79 300.43 L233.41 300.73 L234.03 300.95 L234.64 300.44 L235.26 300.76 L235.88 301.57 L236.51 301.30 L237.17 301.72 L237.84 301.51 L238.55 301.40 L239.29 301.90 L240.07 302.47 L240.89 302.67 L241.77 302.61 L242.70 302.66 L243.29 302.83 L243.91 302.82 L244.58 302.99 L245.28 303.37 L246.02 302.82 L246.78 303.29 L247.56 303.71 L248.37 303.69 L249.19 303.10 L250.02 303.95 L250.87 303.89 L251.72 303.28 L252.57 303.45 L253.42 303.44 L254.27 303.35 L255.10 304.33 L255.93 303.82 L256.73 304.33 L257.52 303.62 L258.28 303.57 L259.02 304.47 L259.73 304.44 L260.40 304.68 L261.03 304.41 L261.62 304.29 L262.17 304.57 L262.67 303.93 L263.11 304.41 L263.50 304.40" fill="none" stroke="#c0c0c0" stroke-width="2.20" stroke-linejoin="round" stroke-linecap="round"/>
<path d="M193.20 258.50 L193.67 258.57 L194.33 258.74 L195.11 258.94 L195.95 259.08 L196.78 259.10 L197.51 258.94 L198.10 258.50 L198.36 258.05 L198.59 257.42 L198.78 256.65 L198.94 255.77 L199.09 254.85 L199.22 253.90 L199.34 252.98 L199.46 252.13 L199.57 251.38 L199.70 250.78 L199.84 250.38 L200.00 250.20 L200.20 250.26 L200.40 250.53 L200.60 251.00 L200.80 251.62 L201.00 252.39 L201.21 253.26 L201.44 254.23 L201.67 255.26 L201.93 256.32 L202.20 257.40 L202.34 257.93 L202.48 258.49 L202.63 259.07 L202.78 259.68 L202.94 260.31 L203.10 260.97 L203.27 261.64 L203.43 262.33 L203.60 263.03 L203.78 263.75 L203.95 264.47 L204.12 265.20 L204.30 265.93 L204.48 266.67 L204.65 267.41 L204.83 268.14 L205.01 268.87 L205.18 269.60 L205.36 270.31 L205.53 271.01 L205.70 271.70 L205.87 272.38 L206.04 273.06 L206.21 273.74 L206.38 274.42 L206.55 275.10 L206.72 275.79 L206.89 276.47 L207.06 277.15 L207.24 277.83 L207.41 278.51 L207.58 279.19 L207.75 279.87 L207.92 280.55 L208.10 281.23 L208.27 281.91 L208.44 282.60 L208.61 283.28 L208.78 283.96 L208.96 284.64 L209.13 285.32 L209.30 286.00 L209.47 286.68 L209.64 287.37 L209.80 288.06 L209.97 288.76 L210.13 289.45 L210.29 290.15 L210.46 290.85 L210.62 291.55 L210.78 292.25 L210.94 292.95 L211.11 293.64 L211.27 294.33 L211.44 295.02 L211.61 295.70 L211.78 296.38 L211.96 297.05 L212.14 297.72 L212.32 298.38 L212.51 299.03 L212.70 299.67 L212.90 300.30 L213.13 301.03 L213.36 301.74 L213.59 302.45 L213.82 303.15 L214.05 303.80 L214.28 304.27 L214.52 305.26 L214.76 305.74 L215.01 306.53 L215.26 307.09 L215.52 307.71 L215.80 308.38 L216.08 309.20 L216.38 310.10 L216.68 310.71 L217.01 311.29 L217.34 311.90 L217.70 312.15 L218.05 313.23 L218.42 313.34 L218.80 313.85 L219.19 314.72 L219.60 315.49 L220.02 315.82 L220.44 316.64 L220.88 316.99 L221.33 318.06 L221.78 318.28 L222.23 318.88 L222.70 319.48 L223.16 320.28 L223.63 320.89 L224.11 321.10 L224.58 321.55 L225.05 322.16 L225.53 322.25 L226.00 322.95 L226.56 323.75 L227.12 324.19 L227.69 324.15 L228.25 325.15 L228.83 325.25 L229.40 326.07 L229.99 326.03 L230.57 326.29 L231.17 326.88 L231.77 327.46 L232.39 327.47 L233.01 328.09 L233.64 328.29 L234.28 328.34 L234.93 328.58 L235.60 329.00 L236.23 329.18 L236.87 329.39 L237.51 329.80 L238.15 330.16 L238.81 330.14 L239.46 330.01 L240.13 330.22 L240.81 330.49 L241.49 330.80 L242.19 330.61 L242.90 330.71 L243.63 331.01 L244.37 331.11 L245.13 331.07 L245.90 331.55 L246.69 331.96 L247.50 331.82 L248.13 332.07 L248.80 332.24 L249.50 332.35 L250.24 332.51 L251.00 332.28 L251.78 332.56 L252.58 332.27 L253.39 332.90 L254.21 332.65 L255.03 332.81 L255.84 333.20 L256.64 332.87 L257.44 332.90 L258.21 333.43 L258.96 333.35 L259.68 333.07 L260.36 333.11 L261.01 333.41 L261.62 333.24 L262.17 333.88 L262.67 333.48 L263.12 333.60 L263.50 333.80" fill="none" stroke="#000" stroke-width="1.60" stroke-linejoin="round" stroke-linecap="round"/>
<line x1="273.00" y1="252.80" x2="273.00" y2="264.80" stroke="#000" stroke-width="1.10"/>
<path d="M286.00 273.39 L286.16 273.92 L286.36 274.36 L286.59 275.18 L286.86 275.91 L287.16 276.45 L287.49 276.92 L287.83 278.63 L288.20 279.19 L288.45 279.15 L288.71 280.10 L288.98 281.01 L289.26 281.87 L289.55 281.58 L289.85 282.18 L290.17 283.32 L290.50 283.96 L290.84 285.14 L291.21 285.80 L291.59 286.06 L292.00 286.92 L292.30 287.65 L292.61 288.54 L292.93 288.47 L293.26 289.29 L293.60 289.63 L293.95 290.84 L294.31 290.89 L294.67 292.47 L295.04 292.73 L295.42 293.45 L295.80 293.63 L296.19 294.44 L296.59 295.33 L296.99 296.35 L297.39 296.66 L297.79 297.00 L298.20 298.28 L298.64 298.56 L299.08 299.02 L299.53 299.28 L299.98 299.96 L300.44 301.13 L300.91 300.93 L301.38 301.88 L301.86 302.51 L302.34 302.77 L302.83 303.71 L303.33 304.36 L303.83 304.80 L304.34 305.17 L304.85 305.11 L305.37 305.42 L305.90 306.23 L306.47 306.56 L307.05 306.88 L307.63 307.96 L308.23 307.70 L308.83 308.68 L309.43 309.16 L310.05 308.69 L310.67 309.83 L311.30 309.64 L311.93 309.79 L312.57 310.08 L313.22 310.26 L313.87 311.04 L314.53 311.25 L315.20 312.05 L315.82 312.34 L316.43 311.88 L317.04 312.53 L317.64 312.82 L318.25 312.91 L318.86 313.29 L319.48 313.60 L320.11 314.32 L320.75 314.25 L321.42 314.31 L322.10 314.70 L322.81 315.20 L323.56 315.59 L324.33 315.53 L325.15 316.25 L326.00 316.02 L326.58 316.63 L327.21 316.73 L327.88 316.46 L328.58 317.20 L329.31 317.01 L330.06 317.31 L330.84 317.53 L331.63 317.72 L332.43 317.70 L333.24 317.47 L334.06 318.35 L334.87 318.57 L335.68 318.35 L336.47 318.58 L337.25 318.41 L338.01 319.18 L338.75 319.09 L339.45 318.75 L340.12 319.46 L340.76 319.74 L341.35 319.21 L341.89 319.95 L342.39 319.53 L342.82 319.31 L343.20 319.70" fill="none" stroke="#000" stroke-width="2.00" stroke-linejoin="round" stroke-linecap="round"/>
<path d="M273.00 259.70 C273.73 259.70 276.23 260.87 277.40 259.70 C278.57 258.53 278.98 252.32 280.00 252.70 C281.02 253.08 282.67 259.12 283.50 262.00 C284.33 264.88 284.42 267.67 285.00 270.00 C285.58 272.33 286.67 275.00 287.00 276.00" fill="none" stroke="#8a8a8a" stroke-width="1.20" stroke-linejoin="round" stroke-linecap="round"/>
<path d="M285.00 270.00 L285.13 270.39 L285.28 270.90 L285.47 271.50 L285.67 272.17 L285.91 272.89 L286.16 273.66 L286.42 274.44 L286.71 275.23 L287.00 276.00 L287.25 276.62 L287.50 277.26 L287.75 277.91 L288.02 278.57 L288.29 279.24 L288.59 279.93 L288.90 280.64 L289.23 281.35 L289.59 282.09 L289.98 282.84 L290.40 283.60 L290.70 284.14 L291.02 284.87 L291.34 285.15 L291.68 286.05 L292.03 286.53 L292.38 286.75 L292.75 287.70 L293.13 288.57 L293.52 288.89 L293.92 289.55 L294.34 290.42 L294.77 290.68 L295.21 291.31 L295.66 291.96 L296.12 292.71 L296.60 292.76 L297.06 293.18 L297.53 294.21 L298.02 294.53 L298.51 294.82 L299.02 295.77 L299.53 296.24 L300.06 296.44 L300.60 297.26 L301.14 297.60 L301.70 297.98 L302.27 298.05 L302.85 298.26 L303.44 299.23 L304.04 299.69 L304.65 299.79 L305.27 300.29 L305.90 300.75 L306.48 300.84 L307.07 301.54 L307.67 301.76 L308.29 301.95 L308.92 302.05 L309.56 302.72 L310.21 302.84 L310.86 303.47 L311.52 303.32 L312.19 303.79 L312.86 303.91 L313.53 304.36 L314.21 304.76 L314.88 304.64 L315.55 304.84 L316.22 305.43 L316.89 305.43 L317.55 305.89 L318.20 305.83 L318.89 305.99 L319.57 306.53 L320.26 307.02 L320.94 307.14 L321.63 307.01 L322.32 307.06 L323.01 306.93 L323.69 307.22 L324.38 307.37 L325.07 307.99 L325.76 307.44 L326.45 308.21 L327.14 307.93 L327.83 308.01 L328.52 307.97 L329.21 308.64 L329.91 308.13 L330.60 308.56 L331.31 308.63 L332.06 308.50 L332.83 308.65 L333.63 309.38 L334.44 309.35 L335.25 309.43 L336.07 309.69 L336.88 309.16 L337.68 309.76 L338.45 309.91 L339.21 309.60 L339.93 309.89 L340.61 310.40 L341.24 309.98 L341.83 310.41 L342.35 310.01 L342.81 310.48 L343.20 310.40" fill="none" stroke="#bcbcbc" stroke-width="2.10" stroke-linejoin="round" stroke-linecap="round"/>
<line x1="391.50" y1="258.10" x2="391.50" y2="270.30" stroke="#111" stroke-width="1.20"/>
<path d="M395.00 265.80 C395.25 266.03 395.75 268.25 396.50 267.20 C397.25 266.15 398.47 262.15 399.50 259.50 C400.53 256.85 402.17 252.67 402.70 251.30" fill="none" stroke="#9a9a9a" stroke-width="1.30" stroke-linejoin="round" stroke-linecap="round"/>
<path d="M402.70 251.30 L403.25 251.36 L404.06 251.55 L405.00 252.50 L405.25 252.91 L405.51 253.37 L405.77 253.89 L406.05 254.45 L406.34 255.06 L406.63 255.71 L406.93 256.41 L407.24 257.15 L407.55 257.93 L407.86 258.75 L408.18 259.61 L408.50 260.50 L408.70 261.06 L408.90 261.66 L409.11 262.28 L409.32 262.93 L409.53 263.60 L409.75 264.30 L409.97 265.00 L410.20 265.73 L410.42 266.46 L410.64 267.20 L410.87 267.94 L411.09 268.69 L411.31 269.43 L411.52 270.17 L411.73 270.90 L411.94 271.61 L412.14 272.32 L412.33 273.00 L412.52 273.66 L412.70 274.30 L412.91 275.07 L413.11 275.83 L413.30 276.57 L413.48 277.30 L413.66 278.02 L413.83 278.73 L413.99 279.43 L414.15 280.12 L414.31 280.80 L414.47 281.48 L414.63 282.15 L414.79 282.82 L414.96 283.49 L415.13 284.16 L415.31 284.83 L415.50 285.50 L415.70 286.21 L415.90 286.91 L416.10 287.24 L416.29 288.28 L416.49 288.75 L416.69 290.16 L416.89 290.63 L417.10 290.94 L417.32 291.88 L417.54 292.17 L417.78 293.41 L418.04 293.28 L418.31 294.41 L418.59 295.19 L418.90 295.63 L419.16 295.72 L419.42 296.51 L419.69 297.85 L419.98 297.84 L420.27 299.31 L420.57 299.59 L420.88 300.93 L421.19 301.43 L421.51 301.92 L421.84 302.05 L422.17 302.22 L422.51 303.65 L422.86 304.58 L423.20 305.48 L423.56 305.03 L423.91 305.57 L424.27 307.40 L424.64 307.61 L425.00 307.78 L425.44 308.79 L425.88 308.53 L426.34 309.72 L426.80 310.50 L427.26 310.97 L427.74 310.87 L428.22 311.38 L428.71 312.65 L429.20 313.56 L429.70 312.95 L430.20 313.25 L430.71 313.85 L431.23 315.38 L431.75 315.25 L432.27 315.79 L432.80 317.04 L433.37 316.92 L433.93 316.84 L434.50 317.92 L435.07 317.28 L435.64 318.09 L436.23 319.09 L436.81 318.67 L437.41 318.81 L438.02 319.88 L438.64 319.93 L439.28 321.21 L439.93 320.22 L440.60 321.57 L441.29 321.25 L442.00 322.16 L442.61 321.85 L443.24 322.41 L443.88 322.11 L444.54 322.16 L445.21 322.70 L445.90 323.41 L446.59 322.91 L447.29 322.92 L448.00 323.37 L448.71 323.05 L449.43 323.54 L450.15 324.08 L450.87 324.19 L451.58 324.41 L452.30 324.09 L453.00 323.83 L453.71 323.96 L454.40 324.56 L455.13 324.48 L455.88 325.17 L456.63 324.84 L457.38 325.71 L458.14 325.58 L458.90 325.79 L459.66 326.00 L460.41 325.78 L461.16 325.74 L461.91 325.65 L462.65 325.36 L463.37 326.53 L464.09 326.15 L464.79 325.60 L465.48 326.88 L466.15 326.40 L466.80 326.49 L467.65 326.21 L468.51 325.72 L469.37 326.99 L470.22 325.67 L471.06 325.89 L471.88 326.74 L472.66 325.33 L473.41 325.79 L474.10 325.66 L474.73 325.22 L475.30 326.15 L475.79 325.32 L476.20 325.40" fill="none" stroke="#000" stroke-width="2.10" stroke-linejoin="round" stroke-linecap="round"/>
<path d="M412.70 273.81 L412.82 274.66 L412.96 274.66 L413.12 275.91 L413.30 276.67 L413.50 277.37 L413.71 277.22 L413.93 278.59 L414.16 279.00 L414.40 279.96 L414.65 280.59 L414.89 281.40 L415.14 282.03 L415.38 283.31 L415.62 283.54 L415.86 285.14 L416.08 284.91 L416.30 286.46 L416.56 286.46 L416.81 287.09 L417.04 288.44 L417.26 288.90 L417.49 289.79 L417.71 290.17 L417.94 290.93 L418.19 291.03 L418.45 292.27 L418.74 292.79 L419.06 293.94 L419.41 293.72 L419.80 294.57 L420.09 295.74 L420.39 296.58 L420.70 296.69 L421.02 297.61 L421.36 298.10 L421.70 298.58 L422.06 299.32 L422.43 300.13 L422.80 300.23 L423.19 301.19 L423.58 302.29 L423.98 302.48 L424.39 303.35 L424.81 303.79 L425.24 304.52 L425.67 305.43 L426.11 306.12 L426.55 306.91 L427.00 306.98 L427.48 307.26 L427.97 307.94 L428.47 308.20 L428.98 308.90 L429.49 309.75 L430.01 310.28 L430.55 310.40 L431.09 310.81 L431.64 311.19 L432.20 311.73 L432.76 312.49 L433.34 312.68 L433.93 313.73 L434.52 313.82 L435.13 314.00 L435.74 314.48 L436.37 314.47 L437.00 315.53 L437.61 315.89 L438.23 315.84 L438.85 316.52 L439.49 316.37 L440.13 316.62 L440.78 316.91 L441.44 317.16 L442.11 317.84 L442.78 318.13 L443.47 318.47 L444.16 318.09 L444.86 318.99 L445.57 318.93 L446.29 319.05 L447.01 319.39 L447.75 319.53 L448.49 319.51 L449.24 319.90 L450.00 320.35 L450.64 320.57 L451.30 320.92 L451.98 320.35 L452.68 321.18 L453.39 321.23 L454.11 321.27 L454.84 321.66 L455.57 320.94 L456.31 321.69 L457.06 321.92 L457.80 321.25 L458.55 321.83 L459.29 322.28 L460.02 321.72 L460.75 322.37 L461.46 322.50 L462.16 322.11 L462.85 321.90 L463.52 322.05 L464.18 322.73 L464.81 322.39 L465.42 322.35 L466.00 322.54 L466.93 323.12 L467.85 322.52 L468.75 322.34 L469.63 323.32 L470.49 322.72 L471.31 322.82 L472.10 323.43 L472.85 322.74 L473.55 322.55 L474.20 323.36 L474.79 322.72 L475.33 322.70 L475.80 323.43 L476.20 323.00" fill="none" stroke="#a8a8a8" stroke-width="1.80" stroke-linejoin="round" stroke-linecap="round"/>
<path d="M412.90 273.73 L413.04 274.79 L413.21 274.70 L413.40 275.22 L413.62 275.74 L413.86 276.74 L414.11 277.48 L414.38 278.07 L414.66 278.96 L414.94 279.55 L415.23 280.89 L415.52 281.79 L415.81 282.40 L416.10 283.24 L416.38 283.23 L416.65 284.10 L416.90 284.70 L417.19 285.40 L417.47 286.92 L417.74 287.53 L417.99 288.20 L418.25 288.48 L418.51 288.67 L418.77 289.61 L419.05 289.88 L419.35 291.37 L419.66 291.40 L420.01 292.11 L420.39 293.49 L420.80 293.50 L421.10 294.77 L421.41 294.73 L421.74 295.67 L422.07 295.72 L422.41 297.13 L422.76 297.27 L423.12 297.85 L423.49 298.81 L423.87 299.40 L424.27 299.71 L424.66 300.23 L425.07 301.32 L425.49 301.40 L425.92 302.86 L426.36 302.94 L426.80 303.35 L427.26 304.07 L427.73 304.40 L428.20 305.12 L428.71 305.86 L429.24 306.24 L429.79 306.66 L430.34 307.09 L430.91 307.76 L431.49 308.50 L432.08 308.61 L432.68 309.37 L433.29 309.50 L433.91 309.55 L434.53 309.99 L435.16 311.06 L435.80 311.06 L436.43 311.33 L437.07 311.81 L437.72 312.49 L438.36 312.35 L439.00 312.66 L439.64 312.98 L440.28 312.92 L440.93 313.73 L441.57 313.93 L442.22 314.21 L442.87 314.40 L443.53 314.66 L444.19 315.12 L444.86 314.80 L445.53 315.81 L446.21 315.14 L446.91 316.08 L447.61 315.58 L448.32 316.38 L449.05 316.03 L449.78 316.02 L450.54 316.66 L451.30 317.14 L451.94 317.29 L452.61 317.46 L453.30 317.70 L454.01 316.90 L454.73 317.36 L455.46 317.21 L456.21 317.98 L456.96 317.80 L457.71 318.20 L458.47 318.37 L459.23 318.68 L459.99 318.46 L460.74 318.77 L461.48 318.54 L462.21 318.17 L462.93 319.07 L463.63 318.37 L464.31 318.45 L464.97 319.28 L465.61 318.82 L466.22 319.28 L466.80 318.73 L467.75 319.04 L468.68 319.67 L469.58 319.10 L470.45 319.68 L471.29 320.21 L472.09 319.57 L472.84 320.15 L473.55 320.26 L474.20 320.21 L474.80 320.41 L475.33 320.40 L475.80 319.77 L476.20 320.30" fill="none" stroke="#d8d8d8" stroke-width="2.40" stroke-linejoin="round" stroke-linecap="round"/>
<line x1="477.7" y1="319.7" x2="481.5" y2="317.7" stroke="#000" stroke-width="1.5"/>
<line x1="477.7" y1="323.8" x2="481.5" y2="323.8" stroke="#000" stroke-width="1.5"/>
<line x1="477.7" y1="327.7" x2="481.5" y2="329.6" stroke="#000" stroke-width="1.5"/>
<text x="483.5" y="320.2" font-family="Liberation Sans, sans-serif" font-size="6.6">nonmyr-Arf6</text>
<text x="483.5" y="326.0" font-family="Liberation Sans, sans-serif" font-size="6.6">myr-Arf1</text>
<text x="483.5" y="331.6" font-family="Liberation Sans, sans-serif" font-size="6.6">vehicle</text>
<rect x="315.20" y="85.90" width="19.00" height="2.6" fill="#000"/>
<rect x="315.20" y="82.80" width="1.1" height="8.10" fill="#000"/>
<rect x="333.10" y="82.80" width="1.1" height="8.10" fill="#000"/>
<text x="324.70" y="83.90" font-family="Liberation Sans, sans-serif" font-size="6.4" font-weight="bold" text-anchor="middle">1 min</text>
<rect x="320.00" y="243.90" width="19.00" height="2.6" fill="#000"/>
<rect x="320.00" y="240.80" width="1.1" height="8.10" fill="#000"/>
<rect x="337.90" y="240.80" width="1.1" height="8.10" fill="#000"/>
<text x="329.50" y="242.70" font-family="Liberation Sans, sans-serif" font-size="6.4" font-weight="bold" text-anchor="middle">1 min</text>
<text transform="translate(69.00 194.30) scale(0.96 1)" font-family="Liberation Sans, sans-serif" font-size="9.5" font-weight="bold" text-anchor="middle">25 <tspan font-weight="normal" font-family="Liberation Serif, serif" font-size="10">&#956;</tspan>M</text>
<text transform="translate(147.60 194.30) scale(0.96 1)" font-family="Liberation Sans, sans-serif" font-size="9.5" font-weight="bold" text-anchor="middle">5 <tspan font-weight="normal" font-family="Liberation Serif, serif" font-size="10">&#956;</tspan>M</text>
<text transform="translate(222.60 194.30) scale(0.96 1)" font-family="Liberation Sans, sans-serif" font-size="9.5" font-weight="bold" text-anchor="middle">1 <tspan font-weight="normal" font-family="Liberation Serif, serif" font-size="10">&#956;</tspan>M</text>
<text transform="translate(306.00 194.30) scale(0.96 1)" font-family="Liberation Sans, sans-serif" font-size="9.5" font-weight="bold" text-anchor="middle">0.01 <tspan font-weight="normal" font-family="Liberation Serif, serif" font-size="10">&#956;</tspan>M</text>
<text transform="translate(75.80 354.00) scale(0.96 1)" font-family="Liberation Sans, sans-serif" font-size="9.5" font-weight="bold" text-anchor="middle">25 <tspan font-weight="normal" font-family="Liberation Serif, serif" font-size="10">&#956;</tspan>M</text>
<text transform="translate(153.00 354.00) scale(0.96 1)" font-family="Liberation Sans, sans-serif" font-size="9.5" font-weight="bold" text-anchor="middle">5 <tspan font-weight="normal" font-family="Liberation Serif, serif" font-size="10">&#956;</tspan>M</text>
<text transform="translate(229.80 354.00) scale(0.96 1)" font-family="Liberation Sans, sans-serif" font-size="9.5" font-weight="bold" text-anchor="middle">1 <tspan font-weight="normal" font-family="Liberation Serif, serif" font-size="10">&#956;</tspan>M</text>
<text transform="translate(312.50 354.00) scale(0.96 1)" font-family="Liberation Sans, sans-serif" font-size="9.5" font-weight="bold" text-anchor="middle">0.01 <tspan font-weight="normal" font-family="Liberation Serif, serif" font-size="10">&#956;</tspan>M</text>
</svg>
</body></html>
